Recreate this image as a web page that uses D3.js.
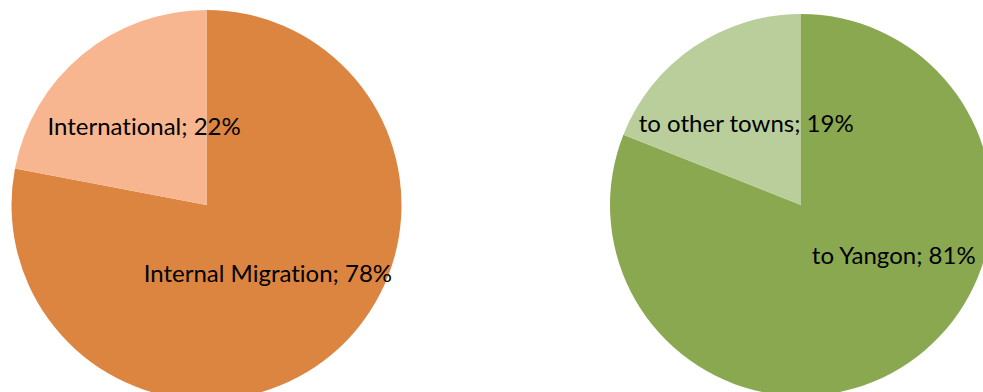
<!DOCTYPE html>
<html>
<head>
<meta charset="utf-8">
<script src="https://cdn.jsdelivr.net/npm/d3@7"></script>
<style>
  body { margin: 0; background: #fff; }
  .pie-label { font-family: Lato, "Open Sans", sans-serif; font-size: 24px; fill: #000; font-variant-ligatures: none; }
</style>
</head>
<body>
<div class="pies-container"></div>
<script>
var w = 983;
var h = 392;

// left pie: type of migration
var typeLabels = ["Internal Migration", "International"];
var typeValues = [78, 22];
var typeColors = ["#dc8540", "#f8b690"];

// right pie: destination of internal migration
var destLabels = ["to Yangon", "to other towns"];
var destValues = [81, 19];
var destColors = ["#8aa850", "#b9ce9b"];

var svg = d3.select(".pies-container")
  .append("svg")
  .attr("width", w)
  .attr("height", h);

var pie = d3.pie()
  .sort(null)
  .value(function(d) { return d.value; });

function drawPie(labels, values, colors, cx, cy, r, nudges) {
  var data = labels.map(function(l, i) {
    return { label: l, value: values[i], color: colors[i], nudge: nudges[i] };
  });

  var arc = d3.arc().innerRadius(0).outerRadius(r);
  var labelArc = d3.arc().innerRadius(0).outerRadius(r * 1.02);

  var g = svg.append("g")
    .attr("transform", "translate(" + cx + "," + cy + ")");

  g.selectAll("path")
    .data(pie(data))
    .enter()
    .append("path")
    .attr("d", arc)
    .attr("fill", function(d) { return d.data.color; });

  g.selectAll("text")
    .data(pie(data))
    .enter()
    .append("text")
    .attr("class", "pie-label")
    .attr("text-anchor", "middle")
    .attr("dy", "0.35em")
    .attr("transform", function(d) {
      var c = labelArc.centroid(d);
      return "translate(" + (c[0] + d.data.nudge[0]) + "," + (c[1] + d.data.nudge[1]) + ")";
    })
    .text(function(d) { return d.data.label + "; " + d.data.value + "%"; });
}

drawPie(typeLabels, typeValues, typeColors, 206.5, 205, 195, [[-2, -8], [1, -2]]);
drawPie(destLabels, destValues, destColors, 801, 205, 191, [[38, -30], [0, -1]]);
</script>
</body>
</html>
